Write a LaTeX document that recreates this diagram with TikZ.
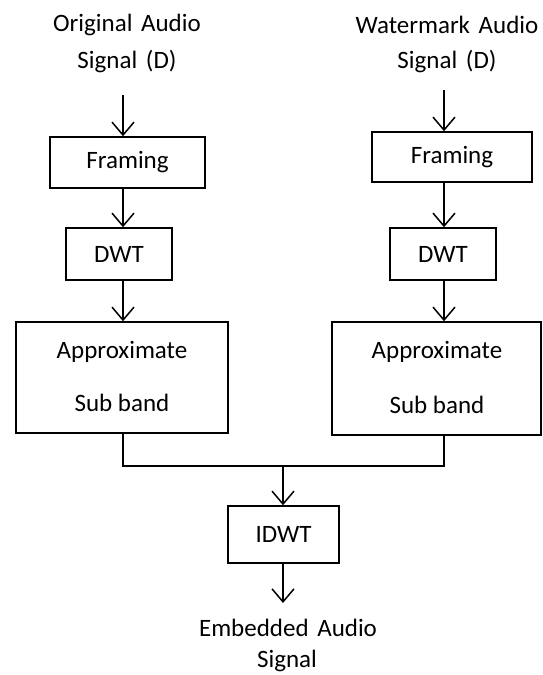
\documentclass[tikz,border=0pt]{standalone}
\usepackage{fontspec}
\setmainfont{Carlito}
\usetikzlibrary{arrows.meta}
\begin{document}
\begin{tikzpicture}[x=1pt,y=-1pt,
  box/.style={draw,line width=1.5pt,inner sep=0pt},
  lbl/.style={font=\fontsize{25}{29}\selectfont,align=center,inner sep=0pt},
  arr/.style={line width=1.5pt,-{Straight Barb[length=13pt,width=22pt,line width=1.5pt]}},
  ln/.style={line width=1.5pt}]
\useasboundingbox (0,0) rectangle (542,675);
% left column
\node[lbl] (tl1) at (127,25) {Original\hspace{3pt} Audio};
\node[lbl] (tl2) at (127,62) {Signal\hspace{3pt} (D)};
\coordinate (al) at (123,95);
\node[box,minimum width=155pt,minimum height=51pt] (fl) at (127.5,162.5) {};
\node[lbl] at (fl.center) {Framing};
\node[box,minimum width=106pt,minimum height=52pt] (dl) at (119,254) {};
\node[lbl] at (dl.center) {DWT};
\node[box,minimum width=212pt,minimum height=111pt] (sl) at (122,377.5) {};
\node[lbl] at (122,352) {Approximate};
\node[lbl] at (122,403) {Sub band};
% right column
\node[lbl] (tr1) at (447,25) {Watermark\hspace{3pt} Audio};
\node[lbl] (tr2) at (447,62) {Signal\hspace{3pt} (D)};
\coordinate (ar) at (444,90);
\node[box,minimum width=160pt,minimum height=50pt] (fr) at (452,157) {};
\node[lbl] at (fr.center) {Framing};
\node[box,minimum width=106pt,minimum height=52pt] (dr) at (443,254) {};
\node[lbl] at (dr.center) {DWT};
\node[box,minimum width=209pt,minimum height=113pt] (sr) at (436.5,378.5) {};
\node[lbl] at (437,352) {Approximate};
\node[lbl] at (437,405) {Sub band};
% bottom
\node[box,minimum width=111pt,minimum height=57pt] (id) at (283.5,534.5) {};
\node[lbl] at (id.center) {IDWT};
\coordinate (out) at (283,603);
\node[lbl] (e1) at (288,628) {Embedded\hspace{3pt} Audio};
\node[lbl] (e2) at (287,661) {Signal};
% arrows
\draw[arr] (al) -- (al |- fl.north);
\draw[arr] (al |- fl.south) -- (al |- dl.north);
\draw[arr] (al |- dl.south) -- (al |- sl.north);
\draw[arr] (ar) -- (ar |- fr.north);
\draw[arr] (ar |- fr.south) -- (ar |- dr.north);
\draw[arr] (ar |- dr.south) -- (ar |- sr.north);
\coordinate (j) at (283,466);
\draw[ln] (al |- sl.south) -- (al |- j) -- (ar |- j) -- (ar |- sr.south);
\draw[arr] (j) -- (j |- id.north);
\draw[arr] (id.south -| j) -- (out);
\end{tikzpicture}
\end{document}
